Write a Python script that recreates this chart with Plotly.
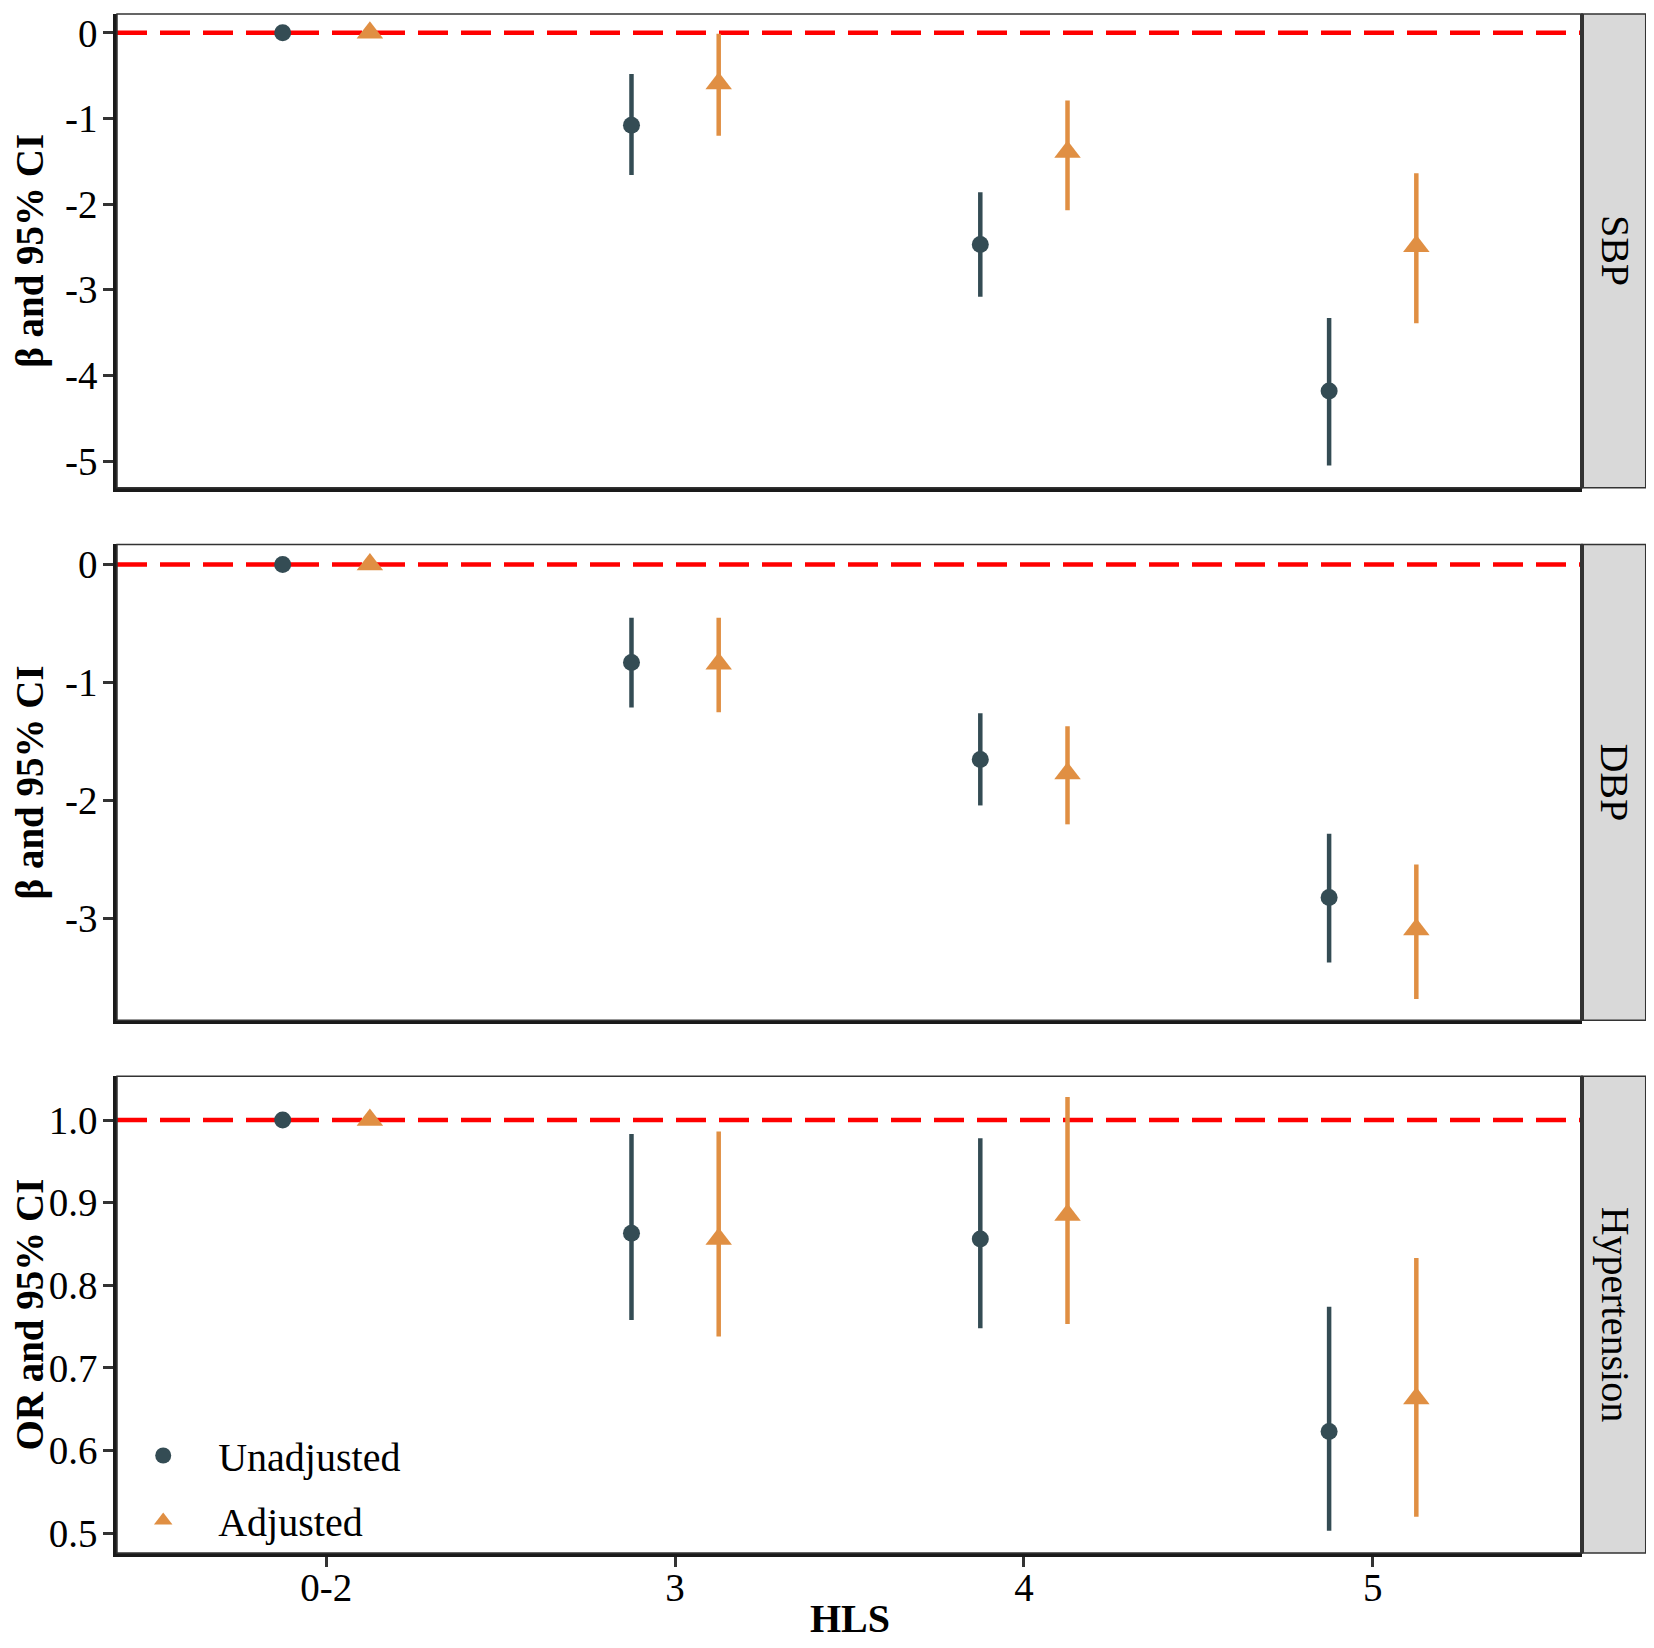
import plotly.graph_objects as go
from plotly.subplots import make_subplots

# HLS groups on the x axis
hls = ["0-2", "3", "4", "5"]

# SBP (beta and 95% CI)
sbp_unadj = [0.0, -1.08, -2.47, -4.18]
sbp_unadj_lo = [0.0, -1.66, -3.08, -5.05]
sbp_unadj_hi = [0.0, -0.48, -1.86, -3.33]
sbp_adj = [0.0, -0.59, -1.39, -2.49]
sbp_adj_lo = [0.0, -1.20, -2.07, -3.39]
sbp_adj_hi = [0.0, -0.01, -0.79, -1.64]

# DBP (beta and 95% CI)
dbp_unadj = [0.0, -0.83, -1.65, -2.82]
dbp_unadj_lo = [0.0, -1.21, -2.04, -3.37]
dbp_unadj_hi = [0.0, -0.45, -1.26, -2.28]
dbp_adj = [0.0, -0.84, -1.77, -3.09]
dbp_adj_lo = [0.0, -1.25, -2.20, -3.68]
dbp_adj_hi = [0.0, -0.45, -1.37, -2.54]

# Hypertension (OR and 95% CI)
htn_unadj = [1.0, 0.863, 0.856, 0.623]
htn_unadj_lo = [1.0, 0.758, 0.748, 0.503]
htn_unadj_hi = [1.0, 0.983, 0.978, 0.774]
htn_adj = [1.0, 0.856, 0.885, 0.663]
htn_adj_lo = [1.0, 0.738, 0.753, 0.520]
htn_adj_hi = [1.0, 0.986, 1.028, 0.833]

panel_names = ["SBP", "DBP", "Hypertension"]
y_titles = ["β and 95% CI", "β and 95% CI", "OR and 95% CI"]
x_title = "HLS"
ref_lines = [0, 0, 1]

dark = "#344C54"
orange = "#E08F43"
font_family = "Liberation Serif"

panels = [
    (sbp_unadj, sbp_unadj_lo, sbp_unadj_hi, sbp_adj, sbp_adj_lo, sbp_adj_hi),
    (dbp_unadj, dbp_unadj_lo, dbp_unadj_hi, dbp_adj, dbp_adj_lo, dbp_adj_hi),
    (htn_unadj, htn_unadj_lo, htn_unadj_hi, htn_adj, htn_adj_lo, htn_adj_hi),
]

fig = make_subplots(rows=3, cols=1, vertical_spacing=0.037)

for i, (u, ulo, uhi, a, alo, ahi) in enumerate(panels):
    row = i + 1
    fig.add_trace(go.Scatter(
        x=hls, y=u, mode="markers", name="Unadjusted", offsetgroup="u",
        legendgroup="u", showlegend=(row == 3),
        marker=dict(symbol="circle", size=17, color=dark),
        error_y=dict(type="data", symmetric=False,
                     array=[h - v for h, v in zip(uhi, u)],
                     arrayminus=[v - l for v, l in zip(u, ulo)],
                     color=dark, thickness=4.5, width=0),
    ), row=row, col=1)
    fig.add_trace(go.Scatter(
        x=hls, y=a, mode="markers", name="Adjusted", offsetgroup="a",
        legendgroup="a", showlegend=(row == 3),
        marker=dict(symbol="triangle-up", size=23, color=orange),
        error_y=dict(type="data", symmetric=False,
                     array=[h - v for h, v in zip(ahi, a)],
                     arrayminus=[v - l for v, l in zip(a, alo)],
                     color=orange, thickness=4.5, width=0),
    ), row=row, col=1)
    # reference line
    fig.add_hline(y=ref_lines[i], line=dict(color="#FF0000", width=4.5, dash="30px,13px"),
                  layer="below", row=row, col=1)

y_ranges = [[-5.31, 0.22], [-3.86, 0.17], [0.476, 1.053]]
y_ticks = [[0, -1, -2, -3, -4, -5], [0, -1, -2, -3], [0.5, 0.6, 0.7, 0.8, 0.9, 1.0]]
y_ticktext = [["0", "-1", "-2", "-3", "-4", "-5"], ["0", "-1", "-2", "-3"],
              ["0.5", "0.6", "0.7", "0.8", "0.9", "1.0"]]
domains = [[0.6922, 1.0], [0.3461, 0.6553], [0.0, 0.3098]]

for i in range(3):
    row = i + 1
    xr = "x domain" if row == 1 else "x%d domain" % row
    yr = "y domain" if row == 1 else "y%d domain" % row
    fig.update_yaxes(
        range=y_ranges[i], domain=domains[i], tickvals=y_ticks[i], ticktext=y_ticktext[i],
        automargin=False, showgrid=False, zeroline=False,
        showline=True, linewidth=3.5, linecolor="#1a1a1a",
        ticks="outside", ticklen=10, tickwidth=3, tickcolor="#333333",
        ticklabelstandoff=-2, ticklabeloverflow="allow",
        tickfont=dict(size=39, color="black", family=font_family),
        row=row, col=1)
    fig.update_xaxes(
        type="category", range=[-0.6, 3.6], automargin=False,
        showgrid=False, zeroline=False,
        showline=True, linewidth=3.5, linecolor="#1a1a1a",
        ticks="outside" if row == 3 else "", ticklen=10, tickwidth=3, tickcolor="#333333",
        showticklabels=(row == 3), ticklabelstandoff=-13,
        tickfont=dict(size=39, color="black", family=font_family),
        row=row, col=1)
    # y title, placed by hand left of the tick labels
    fig.add_annotation(text="<b>" + y_titles[i] + "</b>", xref="paper", yref=yr,
                       x=-0.0594, y=0.5, xanchor="center", yanchor="middle",
                       showarrow=False, textangle=-90,
                       font=dict(size=39, color="black", family=font_family))
    # thin panel border
    fig.add_shape(type="rect", xref=xr, yref=yr, x0=0, x1=1, y0=0, y1=1,
                  line=dict(color="#333333", width=1.5), layer="above")
    # facet strip
    fig.add_shape(type="rect", xref="paper", yref=yr, x0=1.0, x1=1.0435, y0=0, y1=1,
                  fillcolor="#D9D9D9", line=dict(color="#333333", width=1.5))
    fig.add_shape(type="line", xref="paper", yref=yr, x0=1.0, x1=1.0, y0=0, y1=1,
                  line=dict(color="#333333", width=4))
    fig.add_annotation(text=panel_names[i], xref="paper", yref=yr, x=1.0225, y=0.5,
                       xanchor="center", yanchor="middle",
                       showarrow=False, textangle=90,
                       font=dict(size=40, color="black", family=font_family))

fig.add_annotation(text="<b>" + x_title + "</b>", xref="x3 domain", yref="paper",
                   x=0.5, y=-0.0425, xanchor="center", yanchor="middle", showarrow=False,
                   font=dict(size=40, color="black", family=font_family))

# the page body adds an 8px margin, so the figure is 16px smaller than the window
fig.update_layout(
    width=1638, height=1632,
    margin=dict(l=109, r=64, t=6, b=87),
    plot_bgcolor="white", paper_bgcolor="white",
    scattermode="group", scattergap=0.5,
    font=dict(family=font_family, color="black"),
    legend=dict(x=-0.006, y=0.0, xanchor="left", yanchor="bottom",
                bgcolor="rgba(0,0,0,0)", itemwidth=100,
                font=dict(size=40, color="black", family=font_family)),
)

fig.write_html("out.html")
